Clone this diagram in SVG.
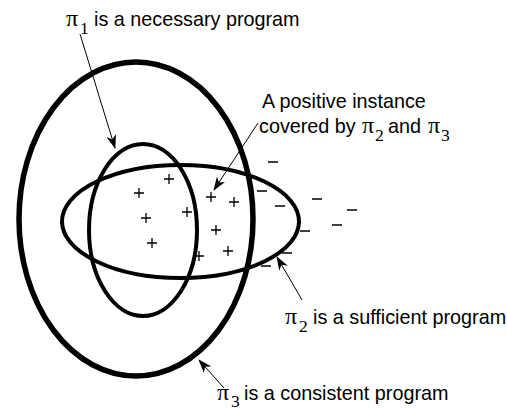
<svg xmlns="http://www.w3.org/2000/svg" width="507" height="410" viewBox="0 0 507 410">
<style>
.set{fill:none;stroke:#000}
.t{font-family:"Liberation Sans",Arial,sans-serif;font-size:19.8px;fill:#000}
.p{font-family:"Liberation Serif","Times New Roman",serif;font-size:24px;fill:#000}
.s{font-family:"Liberation Serif","Times New Roman",serif;font-size:17.5px;fill:#000}
.m{stroke:#000;stroke-width:1.3;fill:none}
.c{stroke:#000;stroke-width:1;fill:none}
</style>
<defs>
<marker id="ah" viewBox="0 0 14 10" refX="13" refY="5" markerWidth="14" markerHeight="10" markerUnits="userSpaceOnUse" orient="auto">
<path d="M0,0 L14,5 L0,10 L4,5 Z" fill="#000"/>
</marker>
</defs>
<rect width="507" height="410" fill="#fff"/>
<g id="pi3"><ellipse class="set" cx="136" cy="219" rx="117" ry="157" stroke-width="5.5"/></g>
<g id="pi1"><ellipse class="set" cx="143" cy="230" rx="54" ry="86" stroke-width="4"/></g>
<g id="pi2"><ellipse class="set" cx="180.5" cy="221.5" rx="118.5" ry="56.5" stroke-width="4"/></g>
<g id="positives">
<path class="m" d="M164,179h10M169,174v10 M134,193h10M139,188v10 M141,218h10M146,213v10 M147,243h10M152,238v10 M182,212h10M187,207v10 M206,197h10M211,192v10 M229,202h10M234,197v10 M211,230h10M216,225v10 M194,256h10M199,251v10 M223,251h10M228,246v10"/>
</g>
<g id="negatives">
<path class="m" d="M268,162h10 M257,191h10 M275,206h10 M312,199h10 M347,210h10 M332,225h10 M300,231h10 M282,253h10 M261,266h10"/>
</g>
<g id="connectors">
<line class="c" x1="80" y1="34" x2="115" y2="148" marker-end="url(#ah)"/>
<line class="c" x1="258" y1="123" x2="214" y2="190" marker-end="url(#ah)"/>
<line class="c" x1="302" y1="300" x2="277" y2="257" marker-end="url(#ah)"/>
<line class="c" x1="224" y1="388" x2="199" y2="360" marker-end="url(#ah)"/>
</g>
<g id="label-pi1">
<text class="p" x="66" y="26">π</text><text class="s" x="80" y="34">1</text>
<text class="t" x="94" y="26">is a necessary program</text>
</g>
<g id="label-instance">
<text class="t" x="262" y="108">A positive instance</text>
<text class="t" x="259" y="133">covered by</text>
<text class="p" x="362" y="133">π</text><text class="s" x="375" y="141">2</text>
<text class="t" x="388" y="133">and</text>
<text class="p" x="428" y="133">π</text><text class="s" x="441" y="141">3</text>
</g>
<g id="label-pi2">
<text class="p" x="285" y="324">π</text><text class="s" x="299" y="332">2</text>
<text class="t" x="313" y="324">is a sufficient program</text>
</g>
<g id="label-pi3">
<text class="p" x="217" y="400">π</text><text class="s" x="231" y="407">3</text>
<text class="t" x="244" y="400">is a consistent program</text>
</g>
</svg>
